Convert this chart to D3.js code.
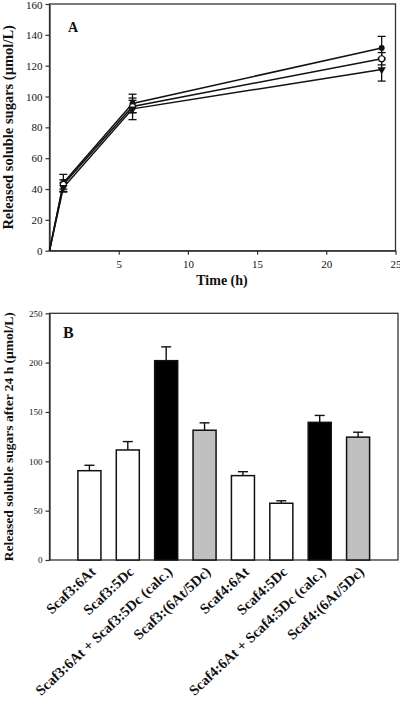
<!DOCTYPE html>
<html><head><meta charset="utf-8">
<script src="https://cdn.jsdelivr.net/npm/d3@7"></script>
<style>
html,body{margin:0;padding:0;background:#fff;}
svg{display:block;font-family:"Liberation Serif","Times New Roman",serif;}
</style></head>
<body>
<svg id="chart" width="400" height="711"></svg>
<script>
// ---- Panel A data ----
const timeHours = [0, 1, 6, 24];
const filledCircle = [0, 44, 95.5, 131.5];
const filledCircleErr = [0, 5.5, 6, 7.5];
const openCircle = [0, 43, 93.5, 124.5];
const openCircleErr = [0, 3, 4, 4];
const filledTriangle = [0, 41, 92, 117.5];
const filledTriangleErr = [0, 3, 7, 7.5];
const xTicksA = [5, 10, 15, 20, 25];
const yTicksA = [0, 20, 40, 60, 80, 100, 120, 140, 160];

// ---- Panel B data ----
const categoriesB = ["Scaf3:6At", "Scaf3:5Dc", "Scaf3:6At + Scaf3:5Dc (calc.)", "Scaf3:(6At/5Dc)",
                     "Scaf4:6At", "Scaf4:5Dc", "Scaf4:6At + Scaf4:5Dc (calc.)", "Scaf4:(6At/5Dc)"];
const valuesB = [90.5, 111.5, 202, 131.5, 85.5, 57.5, 139.5, 124.5];
const errorsB = [5.5, 8.5, 14, 7.5, 4, 2.5, 7, 5];
const fillsB = ["#ffffff", "#ffffff", "#000000", "#c0c0c0", "#ffffff", "#ffffff", "#000000", "#c0c0c0"];
const yTicksB = [0, 50, 100, 150, 200, 250];

const svg = d3.select("#chart");
const ink = "#111";

// ================= Panel A =================
const A = {left: 49.5, right: 395.5, top: 4, bottom: 250.7};
const xA = d3.scaleLinear().domain([0, 25]).range([A.left, A.right]);
const yA = d3.scaleLinear().domain([0, 160]).range([A.bottom, A.top]);
const gA = svg.append("g");

gA.append("rect").attr("x", A.left).attr("y", A.top)
  .attr("width", A.right - A.left).attr("height", A.bottom - A.top)
  .attr("fill", "none").attr("stroke", "#333").attr("stroke-width", 1.3);

const axYA = gA.append("g").attr("transform", `translate(${A.left},0)`)
  .call(d3.axisLeft(yA).tickValues(yTicksA).tickSize(4).tickPadding(3).tickSizeOuter(0));
const axXA = gA.append("g").attr("transform", `translate(0,${A.bottom})`)
  .call(d3.axisBottom(xA).tickValues(xTicksA).tickSize(4).tickPadding(6).tickSizeOuter(0));
[axYA, axXA].forEach(ax => {
  ax.select(".domain").attr("stroke", "#333").attr("stroke-width", 1.3);
  ax.selectAll(".tick line").attr("stroke", "#333").attr("stroke-width", 1.2);
  ax.selectAll(".tick text").attr("font-family", "Liberation Serif, serif").attr("font-size", 11).attr("fill", ink);
});
// keep the top label inside the picture
axYA.selectAll(".tick text").filter(d => d === 160).attr("dy", "0.45em");

const seriesA = [
  {vals: filledCircle, err: filledCircleErr, type: "filled"},
  {vals: openCircle, err: openCircleErr, type: "open"},
  {vals: filledTriangle, err: filledTriangleErr, type: "tri"}
];
const line = d3.line().x((d, i) => xA(timeHours[i])).y(d => yA(d));
seriesA.forEach(s => {
  gA.append("path").datum(s.vals).attr("d", line)
    .attr("fill", "none").attr("stroke", ink).attr("stroke-width", 1.5);
});
seriesA.forEach(s => {
  s.vals.forEach((v, i) => {
    if (i === 0) return;
    const x = xA(timeHours[i]);
    const y1 = yA(v + s.err[i]), y2 = yA(v - s.err[i]);
    gA.append("line").attr("x1", x).attr("x2", x).attr("y1", y1).attr("y2", y2)
      .attr("stroke", ink).attr("stroke-width", 1.3);
    [y1, y2].forEach(yy => gA.append("line").attr("x1", x - 4).attr("x2", x + 4)
      .attr("y1", yy).attr("y2", yy).attr("stroke", ink).attr("stroke-width", 1.3));
  });
});
seriesA.forEach(s => {
  s.vals.forEach((v, i) => {
    if (i === 0) return;
    const x = xA(timeHours[i]), y = yA(v);
    if (s.type === "filled") {
      gA.append("circle").attr("cx", x).attr("cy", y).attr("r", 3).attr("fill", ink);
    } else if (s.type === "open") {
      gA.append("circle").attr("cx", x).attr("cy", y).attr("r", 3).attr("fill", "#fff").attr("stroke", ink).attr("stroke-width", 1.2);
    } else {
      gA.append("path").attr("d", d3.symbol().type(d3.symbolTriangle).size(30)())
        .attr("transform", `translate(${x},${y}) rotate(180)`).attr("fill", ink);
    }
  });
});

gA.append("text").attr("x", 68).attr("y", 32).attr("font-weight", "bold").attr("font-size", 14).attr("fill", ink).text("A");
gA.append("text").attr("x", 222).attr("y", 285).attr("text-anchor", "middle")
  .attr("font-weight", "bold").attr("font-size", 14).attr("fill", ink).text("Time (h)");
gA.append("text").attr("transform", `translate(13,${(A.top + A.bottom) / 2}) rotate(-90)`)
  .attr("text-anchor", "middle").attr("font-weight", "bold").attr("font-size", 14.5).attr("fill", ink)
  .text("Released soluble sugars (µmol/L)");

// ================= Panel B =================
const B = {left: 49.5, right: 398, top: 313.3, bottom: 560};
const xB = d3.scaleBand().domain(categoriesB).range([B.left, B.right]).paddingInner(0.4).paddingOuter(0.74);
const yB = d3.scaleLinear().domain([0, 250]).range([B.bottom, B.top]);
const gB = svg.append("g");

gB.append("rect").attr("x", B.left).attr("y", B.top)
  .attr("width", B.right - B.left).attr("height", B.bottom - B.top)
  .attr("fill", "none").attr("stroke", "#333").attr("stroke-width", 1.3);

const axYB = gB.append("g").attr("transform", `translate(${B.left},0)`)
  .call(d3.axisLeft(yB).tickValues(yTicksB).tickSize(4).tickPadding(3).tickSizeOuter(0));
axYB.select(".domain").attr("stroke", "#333").attr("stroke-width", 1.3);
axYB.selectAll(".tick line").attr("stroke", "#333").attr("stroke-width", 1.2);
axYB.selectAll(".tick text").attr("font-family", "Liberation Serif, serif").attr("font-size", 9).attr("fill", ink);

const barsB = categoriesB.map((c, i) => ({c, v: valuesB[i], e: errorsB[i], f: fillsB[i]}));
gB.selectAll(".err").data(barsB).enter().append("g").each(function(d) {
  const g = d3.select(this);
  const cx = xB(d.c) + xB.bandwidth() / 2;
  g.append("line").attr("x1", cx).attr("x2", cx).attr("y1", yB(d.v)).attr("y2", yB(d.v + d.e))
    .attr("stroke", ink).attr("stroke-width", 1.4);
  g.append("line").attr("x1", cx - 5).attr("x2", cx + 5).attr("y1", yB(d.v + d.e)).attr("y2", yB(d.v + d.e))
    .attr("stroke", ink).attr("stroke-width", 1.4);
});
gB.selectAll(".bar").data(barsB).enter().append("rect")
  .attr("x", d => xB(d.c)).attr("width", xB.bandwidth())
  .attr("y", d => yB(d.v)).attr("height", d => yB(0) - yB(d.v))
  .attr("fill", d => d.f).attr("stroke", ink).attr("stroke-width", 1.5);

gB.selectAll(".lbl").data(categoriesB).enter().append("text")
  .attr("transform", d => `translate(${xB(d) + xB.bandwidth() / 2 + 7},${B.bottom + 13}) rotate(-43)`)
  .attr("text-anchor", "end").attr("font-weight", "bold").attr("font-size", 14.5).attr("fill", ink)
  .text(d => d);

gB.append("text").attr("x", 63).attr("y", 338).attr("font-weight", "bold").attr("font-size", 16).attr("fill", ink).text("B");
gB.append("text").attr("transform", `translate(13,${(B.top + B.bottom) / 2}) rotate(-90)`)
  .attr("text-anchor", "middle").attr("font-weight", "bold").attr("font-size", 13.5).attr("fill", ink)
  .text("Released soluble sugars after 24 h (µmol/L)");
</script>
</body></html>
